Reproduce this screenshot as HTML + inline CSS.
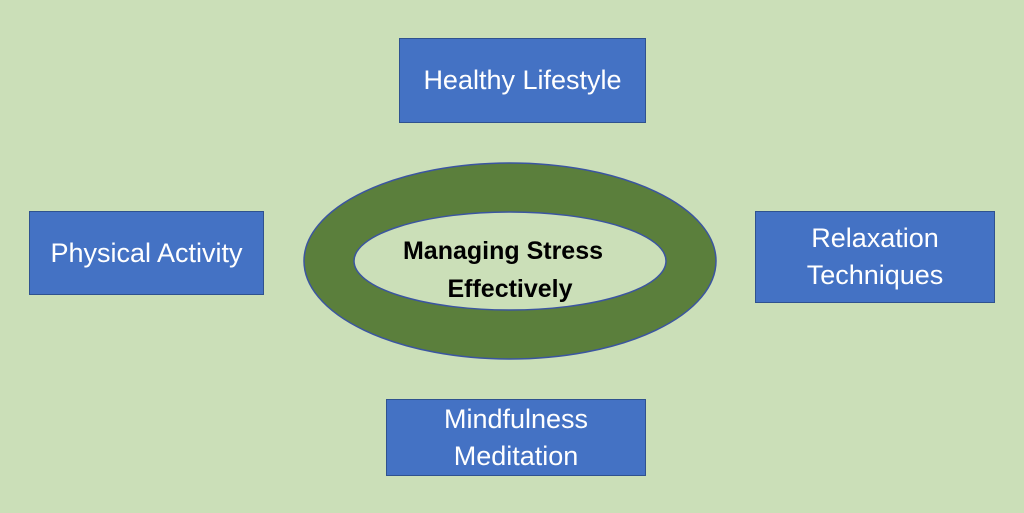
<!DOCTYPE html>
<html><head><style>
body{margin:0;width:1024px;height:513px;background:#cbdfb8;position:relative;overflow:hidden;font-family:"Liberation Sans",sans-serif}
.b{position:absolute;background:#4472c4;border:1px solid #2f528f;box-sizing:border-box;color:#fff;font-size:27px;display:flex;align-items:center;justify-content:center;text-align:center;line-height:37px}
</style></head><body>
<svg width="1024" height="513" style="position:absolute;left:0;top:0">
<ellipse cx="510" cy="261" rx="206" ry="98" fill="#5b7f3c" stroke="#3b55a0" stroke-width="1.5"/>
<ellipse cx="510" cy="261" rx="156" ry="49" fill="#cbdfb8" stroke="#3b55a0" stroke-width="1.5"/>
<text x="503" y="259" text-anchor="middle" font-family="Liberation Sans" font-weight="bold" font-size="25" fill="#000">Managing Stress</text>
<text x="510" y="297" text-anchor="middle" font-family="Liberation Sans" font-weight="bold" font-size="25" fill="#000">Effectively</text>
</svg>
<div class="b" style="left:399px;top:38px;width:247px;height:85px">Healthy Lifestyle</div>
<div class="b" style="left:29px;top:211px;width:235px;height:84px">Physical Activity</div>
<div class="b" style="left:755px;top:211px;width:240px;height:92px">Relaxation<br>Techniques</div>
<div class="b" style="left:386px;top:399px;width:260px;height:77px">Mindfulness<br>Meditation</div>
</body></html>
